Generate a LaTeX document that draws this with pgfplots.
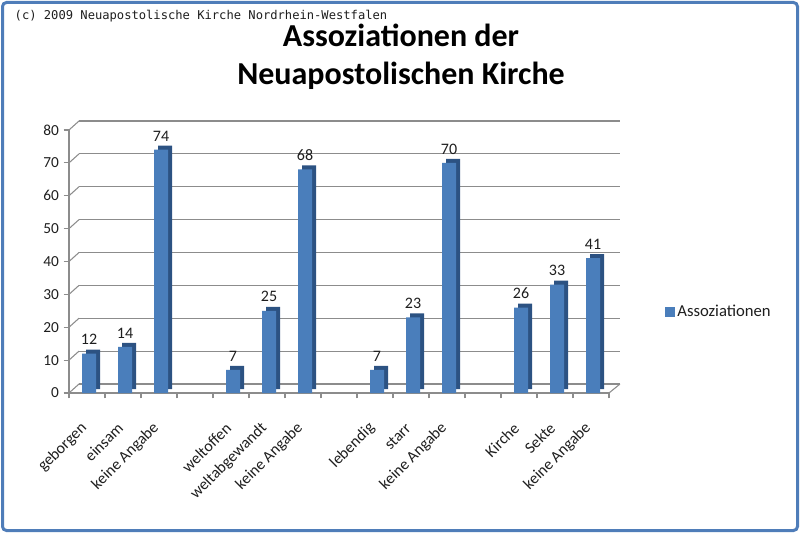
\documentclass[border=0pt]{standalone}
\usepackage{fontspec}
\setmainfont{Carlito}
\newfontfamily\monof{DejaVu Sans Mono}
\usepackage{pgfplots}
\pgfplotsset{compat=1.18}
\definecolor{barblue}{RGB}{74,126,187}
\definecolor{bardark}{RGB}{44,82,130}
\definecolor{gridgray}{RGB}{140,140,140}
\definecolor{frameblue}{RGB}{79,125,185}
\definecolor{txt}{RGB}{30,30,30}
\begin{document}
\begin{tikzpicture}
\begin{scope}[x=0.75pt,y=0.75pt]
\path[use as bounding box] (0,0) rectangle (800,533);
\draw[frameblue, line width=2.25pt, rounded corners=3pt] (2.5,2.5) rectangle (797.5,530.5);
\node[anchor=base west, font=\monof\fontsize{9.1}{10}\selectfont, text=txt] at (10,513) {(c) 2009 Neuapostolische Kirche Nordrhein-Westfalen};
\node[align=center, font=\bfseries\fontsize{24}{28.5}\selectfont, text=black] at (401,476) {Assoziationen der\\Neuapostolischen Kirche};
\foreach \v in {0,10,...,80}{
  \draw[gridgray, line width=0.8pt] (69,{140+\v*3.2875}) -- (79,{149+\v*3.2875});
}
\draw[gridgray, line width=0.8pt] (609,140) -- (620,149);
\end{scope}
% back wall
\begin{axis}[at={(59.25pt,111.75pt)}, anchor=south west, scale only axis,
  width=405.75pt, height=197.25pt, xmin=-0.5, xmax=14.5, ymin=0, ymax=80,
  axis line style={draw=none}, xtick=\empty, ytick={0,10,...,80}, yticklabels={},
  major tick length=0pt, ymajorgrids, grid style={gridgray, line width=0.8pt}]
\addplot[draw=none] coordinates {(0,0)};
\end{axis}
% front
\begin{axis}[at={(51.75pt,105pt)}, anchor=south west, scale only axis,
  width=405pt, height=197.25pt, xmin=-0.5, xmax=14.5, ymin=0, ymax=80,
  /pgf/number format/assume math mode=true,
  axis x line*=bottom, axis y line*=left,
  axis line style={gridgray, line width=0.8pt},
  tick style={gridgray, line width=0.8pt}, tick align=outside, major tick length=4pt,
  ytick={0,10,...,80},
  yticklabel style={font=\fontsize{11.5}{13}\selectfont, text=txt},
  xtick={-0.5,0.5,...,14.5}, xticklabels={},
  extra x ticks={0,1,2,4,5,6,8,9,10,12,13,14},
  extra x tick labels={geborgen,einsam,keine Angabe,weltoffen,weltabgewandt,keine Angabe,lebendig,starr,keine Angabe,Kirche,Sekte,keine Angabe},
  extra x tick style={major tick length=0pt,
    xticklabel style={font=\fontsize{12}{14}\selectfont, text=txt, yshift=-22pt, xshift=0.5pt, rotate=45, anchor=east}},
  legend style={at={(1.096,0.308)}, anchor=west, draw=none, fill=none, font=\fontsize{12.5}{14}\selectfont, text=txt},
  ]
\addplot[ybar, bar width=10.5pt, fill=bardark, draw=none, bar shift=4.5pt, yshift=3pt, forget plot] coordinates {
(0,12) (1,14) (2,74) (4,7) (5,25) (6,68) (8,7) (9,23) (10,70) (12,26) (13,33) (14,41)};
\addplot[ybar, bar width=10.5pt, fill=barblue, draw=none, bar shift=1.5pt,
  nodes near coords, nodes near coords style={font=\fontsize{12}{14}\selectfont, text=txt, xshift=1.5pt, yshift=3pt},
  legend image code/.code={\fill[barblue] (0pt,-3.6pt) rectangle (7.2pt,3.6pt);}] coordinates {
(0,12) (1,14) (2,74) (4,7) (5,25) (6,68) (8,7) (9,23) (10,70) (12,26) (13,33) (14,41)};
\addlegendentry{Assoziationen}
\end{axis}
\end{tikzpicture}
\end{document}
